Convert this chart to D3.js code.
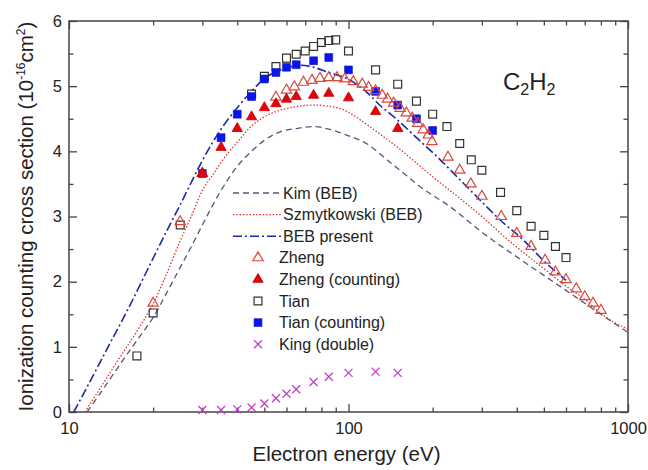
<!DOCTYPE html>
<html>
<head>
<meta charset="utf-8">
<script src="https://cdnjs.cloudflare.com/ajax/libs/d3/7.8.5/d3.min.js"></script>
<style>
  body { margin: 0; background: #fff; }
  svg { font-family: "Liberation Sans", Arial, sans-serif; }
</style>
</head>
<body>
<div id="main"></div>
<script>

// ---- data (energy in eV, cross section in 1e-16 cm^2) ----
const kimE = [11.6, 13, 15, 17.5, 20, 22.5, 25, 27.5, 30, 35, 40, 45, 50, 57, 65, 75, 85, 98.5, 116, 140, 162, 180, 231, 304, 400, 527, 700, 930, 1000];
const kimV = [0, 0.30, 0.69, 1.10, 1.45, 1.85, 2.22, 2.55, 2.87, 3.40, 3.77, 4.00, 4.17, 4.30, 4.35, 4.38, 4.34, 4.25, 4.12, 3.84, 3.62, 3.46, 3.15, 2.74, 2.38, 2.03, 1.67, 1.31, 1.22];

const szE = [11.4, 13, 15, 17.5, 20, 22.5, 25, 27.5, 30, 32.5, 35, 40, 45, 50, 55, 62, 75, 93, 100, 113, 130, 150, 175, 200, 250, 300, 350, 400, 500, 600, 700, 800, 1000];
const szV = [0, 0.38, 0.80, 1.24, 1.66, 2.15, 2.63, 3.02, 3.40, 3.62, 3.83, 4.14, 4.39, 4.53, 4.61, 4.67, 4.71, 4.66, 4.60, 4.45, 4.26, 4.06, 3.82, 3.61, 3.28, 3.00, 2.74, 2.53, 2.20, 1.93, 1.73, 1.51, 1.27];

const bebE = [10.4, 12, 14, 16, 18, 20, 22.5, 25, 27.5, 30, 35, 40, 45, 50, 55, 60, 67, 75, 86, 98.5, 116, 130, 148, 171, 213, 251, 296, 348, 422, 497, 600];
const bebV = [0, 0.50, 1.05, 1.52, 1.96, 2.36, 2.80, 3.18, 3.54, 3.86, 4.34, 4.67, 4.92, 5.12, 5.22, 5.28, 5.32, 5.29, 5.20, 5.12, 4.91, 4.70, 4.50, 4.25, 3.87, 3.56, 3.25, 2.95, 2.64, 2.33, 2.02];

const zhengE = [20, 25, 30, 55, 60, 64, 69, 74, 79, 85, 91, 97, 104, 112, 118, 125, 132, 138, 145, 153, 161, 169, 177, 185, 193, 199, 227, 250, 274, 300, 352, 400, 450, 505, 550, 600, 653, 700, 750, 800];
const zhengV = [1.67, 2.92, 3.66, 4.83, 4.94, 4.99, 5.06, 5.09, 5.12, 5.13, 5.13, 5.11, 5.07, 5.03, 4.98, 4.93, 4.86, 4.80, 4.74, 4.66, 4.59, 4.51, 4.43, 4.33, 4.25, 4.15, 3.91, 3.71, 3.50, 3.31, 3.00, 2.74, 2.54, 2.33, 2.15, 2.03, 1.89, 1.77, 1.67, 1.56];

const zhengCountE = [30, 35, 40, 45, 50, 55, 60, 65, 75, 85, 100, 125, 150];
const zhengCountV = [3.66, 4.06, 4.35, 4.53, 4.67, 4.73, 4.80, 4.84, 4.86, 4.89, 4.82, 4.61, 4.35];

const tianE = [17.5, 20, 25, 45, 50, 55, 60, 65, 70, 75, 80, 85, 90, 100, 125, 150, 175, 200, 225, 250, 275, 300, 350, 400, 450, 500, 550, 600];
const tianV = [0.86, 1.52, 2.87, 4.88, 5.15, 5.30, 5.43, 5.49, 5.54, 5.61, 5.67, 5.70, 5.71, 5.54, 5.25, 5.03, 4.77, 4.57, 4.38, 4.12, 3.87, 3.71, 3.37, 3.09, 2.85, 2.71, 2.54, 2.37];

const tianCountE = [30, 35, 40, 45, 50, 55, 60, 65, 75, 85, 100, 125, 150, 175, 200];
const tianCountV = [3.66, 4.21, 4.57, 4.84, 5.11, 5.21, 5.29, 5.33, 5.39, 5.44, 5.25, 4.92, 4.71, 4.50, 4.32];

const kingE = [30, 35, 40, 45, 50, 55, 60, 65, 75, 85, 100, 125, 150];
const kingV = [0.03, 0.03, 0.04, 0.07, 0.13, 0.21, 0.28, 0.35, 0.46, 0.54, 0.60, 0.62, 0.60];

const xMajor = [10, 100, 1000];
const yMajor = [0, 1, 2, 3, 4, 5, 6];
const yMinor = [0.5, 1.5, 2.5, 3.5, 4.5, 5.5];

const zip = (xs, ys) => xs.map((d, i) => [d, ys[i]]);

const width = 648, height = 470;
const margin = {left: 69, right: 20, top: 21, bottom: 58};

const svg = d3.select("#main").append("svg")
    .attr("width", width)
    .attr("height", height);

const x = d3.scaleLog().domain([10, 1000]).range([margin.left, width - margin.right]);
const y = d3.scaleLinear().domain([0, 6]).range([height - margin.bottom, margin.top]);

const axisColor = "#444";

// ---- axes, ticks pointing inward on all four sides ----
function styleAxis(g) {
    g.select(".domain").remove();
    g.selectAll("line").attr("stroke", axisColor).attr("stroke-width", 1.3);
    g.selectAll("text").attr("fill", "#222").style("font-size", "16.5px");
}

const xMinor = x.ticks().filter(d => xMajor.indexOf(d) < 0);

svg.append("g")
    .attr("transform", `translate(0,${y(0)})`)
    .call(d3.axisBottom(x).tickValues(xMajor).tickFormat(d3.format("d")).tickSizeInner(-8).tickSizeOuter(0).tickPadding(10))
    .call(styleAxis);
svg.append("g")
    .attr("transform", `translate(0,${y(0)})`)
    .call(d3.axisBottom(x).tickValues(xMinor).tickFormat("").tickSizeInner(-4.5).tickSizeOuter(0))
    .call(styleAxis);
svg.append("g")
    .attr("transform", `translate(0,${y(6)})`)
    .call(d3.axisTop(x).tickValues(xMajor).tickFormat("").tickSizeInner(-8).tickSizeOuter(0))
    .call(styleAxis);
svg.append("g")
    .attr("transform", `translate(0,${y(6)})`)
    .call(d3.axisTop(x).tickValues(xMinor).tickFormat("").tickSizeInner(-4.5).tickSizeOuter(0))
    .call(styleAxis);

svg.append("g")
    .attr("transform", `translate(${x(10)},0)`)
    .call(d3.axisLeft(y).tickValues(yMajor).tickFormat(d3.format("d")).tickSizeInner(-8).tickSizeOuter(0).tickPadding(7))
    .call(styleAxis);
svg.append("g")
    .attr("transform", `translate(${x(10)},0)`)
    .call(d3.axisLeft(y).tickValues(yMinor).tickFormat("").tickSizeInner(-4.5).tickSizeOuter(0))
    .call(styleAxis);
svg.append("g")
    .attr("transform", `translate(${x(1000)},0)`)
    .call(d3.axisRight(y).tickValues(yMajor).tickFormat("").tickSizeInner(-8).tickSizeOuter(0))
    .call(styleAxis);
svg.append("g")
    .attr("transform", `translate(${x(1000)},0)`)
    .call(d3.axisRight(y).tickValues(yMinor).tickFormat("").tickSizeInner(-4.5).tickSizeOuter(0))
    .call(styleAxis);

// frame
svg.append("rect")
    .attr("x", x(10)).attr("y", y(6))
    .attr("width", x(1000) - x(10)).attr("height", y(0) - y(6))
    .attr("fill", "none").attr("stroke", axisColor).attr("stroke-width", 1.5);

// ---- curves ----
const line = d3.line()
    .x(d => x(d[0]))
    .y(d => y(d[1]))
    .curve(d3.curveMonotoneX);

const kimStyle = {stroke: "#55557a", dash: "6,4", w: 1.3};
const szStyle = {stroke: "#e03030", dash: "1.5,1.8", w: 1.3};
const bebStyle = {stroke: "#1c2aa8", dash: "9,3,2,3", w: 1.6};

function drawCurve(data, st) {
    svg.append("path")
        .datum(data)
        .attr("d", line)
        .attr("fill", "none")
        .attr("stroke", st.stroke)
        .attr("stroke-width", st.w)
        .attr("stroke-dasharray", st.dash);
}
drawCurve(zip(kimE, kimV), kimStyle);
drawCurve(zip(szE, szV), szStyle);
drawCurve(zip(bebE, bebV), bebStyle);

// ---- markers ----
const triPath = d3.symbol().type(d3.symbolTriangle).size(46)();
const sqPath = d3.symbol().type(d3.symbolSquare).size(62)();
const crossPath = "M-4,-4L4,4M-4,4L4,-4";

const markers = {
    zheng:      {path: triPath, fill: "none", stroke: "#d9483f", w: 1.2},
    zhengCount: {path: triPath, fill: "#e8000b", stroke: "#c00000", w: 0.8},
    tian:       {path: sqPath, fill: "none", stroke: "#333", w: 1.2},
    tianCount:  {path: sqPath, fill: "#0a14f0", stroke: "#0a14c0", w: 0.6},
    king:       {path: crossPath, fill: "none", stroke: "#c040c8", w: 1.3}
};

function drawPoints(data, m) {
    svg.append("g").selectAll("path")
        .data(data)
        .join("path")
        .attr("transform", d => `translate(${x(d[0])},${y(d[1])})`)
        .attr("d", m.path)
        .attr("fill", m.fill)
        .attr("stroke", m.stroke)
        .attr("stroke-width", m.w);
}
drawPoints(zip(tianE, tianV), markers.tian);
drawPoints(zip(tianCountE, tianCountV), markers.tianCount);
drawPoints(zip(zhengE, zhengV), markers.zheng);
drawPoints(zip(zhengCountE, zhengCountV), markers.zhengCount);
drawPoints(zip(kingE, kingV), markers.king);

// ---- legend ----
const legendItems = [
    {name: "Kim (BEB)", line: kimStyle},
    {name: "Szmytkowski (BEB)", line: szStyle},
    {name: "BEB present", line: bebStyle},
    {name: "Zheng", mark: markers.zheng},
    {name: "Zheng (counting)", mark: markers.zhengCount},
    {name: "Tian", mark: markers.tian},
    {name: "Tian (counting)", mark: markers.tianCount},
    {name: "King (double)", mark: markers.king}
];

const legend = svg.append("g").style("font-size", "16px");
legendItems.forEach(function(item, i) {
    const cy = 193 + i * 21.6;
    if (item.line) {
        legend.append("line")
            .attr("x1", 233).attr("x2", 281)
            .attr("y1", cy).attr("y2", cy)
            .attr("stroke", item.line.stroke)
            .attr("stroke-width", item.line.w)
            .attr("stroke-dasharray", item.line.dash);
        legend.append("text").attr("x", 283).attr("y", cy + 5.5).attr("fill", "#222").text(item.name);
    } else {
        legend.append("path")
            .attr("transform", `translate(258,${cy})`)
            .attr("d", item.mark.path)
            .attr("fill", item.mark.fill)
            .attr("stroke", item.mark.stroke)
            .attr("stroke-width", item.mark.w);
        legend.append("text").attr("x", 279).attr("y", cy + 5.5).attr("fill", "#222").text(item.name);
    }
});

// ---- molecule label ----
const mol = svg.append("text")
    .attr("x", 503).attr("y", 90)
    .attr("fill", "#222")
    .style("font-size", "24px");
mol.append("tspan").text("C");
mol.append("tspan").attr("dy", 5).style("font-size", "16px").text("2");
mol.append("tspan").attr("dy", -5).text("H");
mol.append("tspan").attr("dy", 5).style("font-size", "16px").text("2");

// ---- axis titles ----
svg.append("text")
    .attr("x", (x(10) + x(1000)) / 2 - 2)
    .attr("y", 461)
    .attr("text-anchor", "middle")
    .attr("fill", "#222")
    .style("font-size", "20.5px")
    .text("Electron energy (eV)");

const yt = svg.append("text")
    .attr("transform", `translate(33,${(y(0) + y(6)) / 2}) rotate(-90)`)
    .attr("text-anchor", "middle")
    .attr("fill", "#222")
    .style("font-size", "20.5px");
yt.append("tspan").text("Ionization counting cross section (10");
yt.append("tspan").attr("dy", -8).style("font-size", "12px").text("-16");
yt.append("tspan").attr("dy", 8).text("cm");
yt.append("tspan").attr("dy", -8).style("font-size", "12px").text("2");
yt.append("tspan").attr("dy", 8).text(")");

</script>
</body>
</html>
